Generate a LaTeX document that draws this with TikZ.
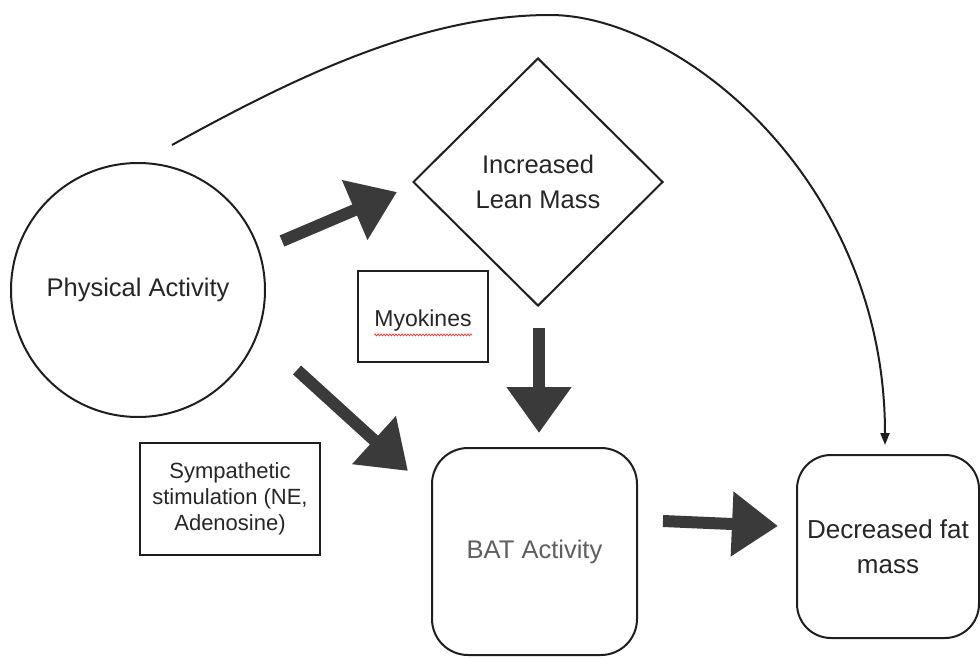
\documentclass[tikz,border=0pt]{standalone}
\usepackage{fontspec}
\setmainfont{Liberation Sans}
\usetikzlibrary{arrows.meta,shapes.geometric,decorations.pathmorphing}
\definecolor{ink}{HTML}{1E1E1E}
\definecolor{txt}{HTML}{262626}
\definecolor{softtxt}{HTML}{5E5E5E}
\definecolor{fat}{HTML}{3A3A3A}
\definecolor{squig}{HTML}{E0403A}
\tikzset{
  base/.style={draw=ink, line width=2pt, text=txt, align=center, inner sep=0pt,
    font=\fontsize{25.5}{34.5}\selectfont},
  roundbox/.style={base, rectangle, rounded corners=36pt},
  plainbox/.style={base, rectangle, line width=2.6pt},
  bigarrow/.style={draw=fat, line width=12pt, -{Triangle[length=46pt,width=62pt]}},
  thinarrow/.style={draw=ink, line width=2pt, -{Triangle[length=12pt,width=9pt]}}
}
\begin{document}
\begin{tikzpicture}[x=1pt,y=-1pt]
\useasboundingbox (0,0) rectangle (980,658);

\node[base, circle, minimum size=254pt] (pa) at (138,290) {Physical Activity};
\node[base, diamond, minimum width=250pt, minimum height=248pt] (lean) at (538,182) {Increased\\Lean Mass};
\node[plainbox, minimum width=130pt, minimum height=91pt] (myo) at (423,316.5) {};
\node[text=txt, font=\fontsize{23}{34}\selectfont, inner sep=0pt] (myotxt) at (423,321) {Myokines};
\node[plainbox, minimum width=180pt, minimum height=112pt, font=\fontsize{22}{26}\selectfont] (sym) at (230,499) {Sympathetic\\stimulation (NE,\\Adenosine)};
\node[roundbox, minimum width=205pt, minimum height=207pt, text=softtxt] (bat) at (534.5,551.5) {BAT Activity};
\node[roundbox, rounded corners=34pt, minimum width=182pt, minimum height=183pt, font=\fontsize{26}{35}\selectfont] (fm) at (888,546.5) {Decreased fat\\mass};

% spell-check squiggle under Myokines
\draw[squig, line width=0.8pt, decorate, decoration={zigzag, amplitude=0.9pt, segment length=3pt}]
  ([yshift=-3pt]myotxt.south west) -- ([yshift=-3pt]myotxt.south east);

% thick arrows
\coordinate (a1s) at (282,241);
\coordinate (a1e) at (397,192);
\coordinate (a2s) at (539,328);
\coordinate (a2e) at (539,433);
\coordinate (a3s) at (297,370);
\coordinate (a3e) at (408,471);
\coordinate (a4s) at (663,521);
\coordinate (a4e) at (778,526);
\draw[bigarrow] (a1s) -- (a1e);
\draw[bigarrow] (a2s) -- (a2e);
\draw[bigarrow] (a3s) -- (a3e);
\draw[bigarrow] (a4s) -- (a4e);

% long thin curve
\coordinate (cs) at (172,145);
\coordinate (cpk) at (550,15);
\coordinate (ce) at (885,445);
\draw[thinarrow] (cs) .. controls (290,80) and (420,15) .. (cpk)
  .. controls (680,15) and (885,180) .. (ce);
\end{tikzpicture}
\end{document}
